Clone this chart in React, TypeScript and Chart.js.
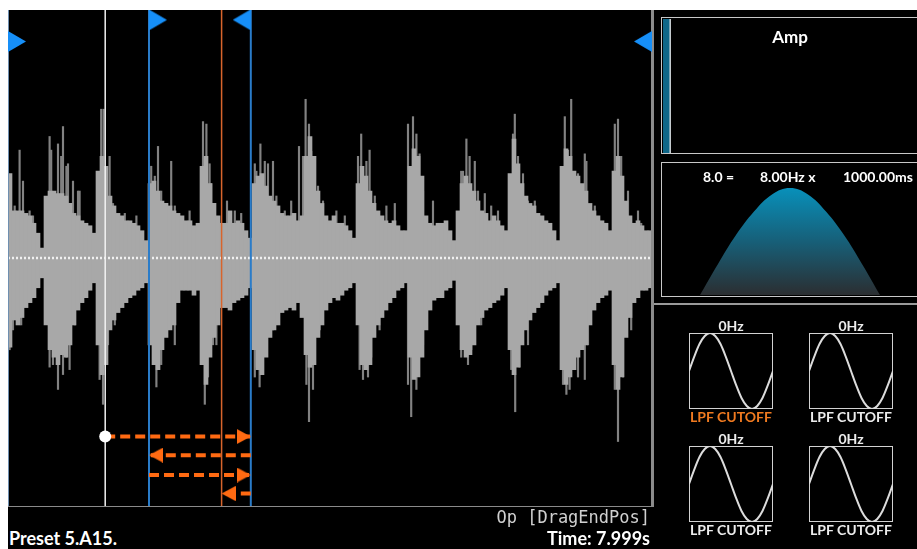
import React, { useEffect, useRef } from 'react';
import { Chart, registerables } from 'chart.js';

Chart.register(...registerables);

const UI_FONT = 'Lato, "Open Sans", "DejaVu Sans", sans-serif';
const MONO_FONT = '"DejaVu Sans Mono", "Liberation Mono", monospace';

// ---- Waveform (one column = one display bin, amplitude -1..1) ----
const waveTop = [
  0.34, 0.19, 0.19, 0.19, 0.18, 0.17, 0.14, 0.10, 0.04, 0.25,
  0.27, 0.27, 0.26, 0.26, 0.25, 0.22, 0.18, 0.17, 0.15, 0.14,
  0.13, 0.10, 0.35, 0.41, 0.37, 0.25, 0.21, 0.18, 0.17, 0.15,
  0.15, 0.14, 0.13, 0.11, 0.07, 0.30, 0.31, 0.27, 0.23, 0.22,
  0.21, 0.19, 0.18, 0.17, 0.15, 0.15, 0.13, 0.14, 0.37, 0.41,
  0.30, 0.22, 0.17, 0.14, 0.14, 0.19, 0.14, 0.15, 0.14, 0.11,
  0.08, 0.30, 0.33, 0.34, 0.29, 0.25, 0.23, 0.21, 0.18, 0.17,
  0.17, 0.18, 0.15, 0.17, 0.41, 0.49, 0.41, 0.27, 0.22, 0.17,
  0.15, 0.17, 0.14, 0.14, 0.13, 0.11, 0.08, 0.30, 0.37, 0.33,
  0.27, 0.22, 0.19, 0.17, 0.15, 0.14, 0.15, 0.13, 0.11, 0.11,
  0.37, 0.44, 0.41, 0.33, 0.17, 0.14, 0.13, 0.14, 0.14, 0.15,
  0.11, 0.07, 0.19, 0.30, 0.33, 0.30, 0.27, 0.23, 0.19, 0.18,
  0.15, 0.17, 0.15, 0.13, 0.11, 0.34, 0.48, 0.38, 0.30, 0.25,
  0.22, 0.21, 0.18, 0.17, 0.15, 0.14, 0.11, 0.07, 0.37, 0.44,
  0.41, 0.35, 0.33, 0.30, 0.27, 0.22, 0.19, 0.17, 0.15, 0.14,
  0.11, 0.35, 0.41, 0.33, 0.23, 0.17, 0.14, 0.15, 0.13, 0.11,
  0.11,
];
const waveBottom = [
  -0.36, -0.25, -0.27, -0.24, -0.20, -0.18, -0.16, -0.12, -0.08, -0.27,
  -0.37, -0.40, -0.43, -0.39, -0.40, -0.35, -0.27, -0.21, -0.18, -0.16,
  -0.13, -0.10, -0.35, -0.47, -0.43, -0.29, -0.25, -0.22, -0.20, -0.18,
  -0.16, -0.15, -0.13, -0.12, -0.10, -0.35, -0.43, -0.45, -0.37, -0.32,
  -0.29, -0.27, -0.18, -0.13, -0.13, -0.13, -0.15, -0.13, -0.43, -0.51,
  -0.40, -0.32, -0.27, -0.20, -0.20, -0.21, -0.18, -0.17, -0.16, -0.15,
  -0.12, -0.37, -0.45, -0.47, -0.40, -0.32, -0.29, -0.27, -0.22, -0.21,
  -0.20, -0.21, -0.18, -0.24, -0.39, -0.44, -0.43, -0.32, -0.27, -0.21,
  -0.18, -0.16, -0.17, -0.15, -0.13, -0.12, -0.10, -0.27, -0.43, -0.45,
  -0.43, -0.32, -0.27, -0.24, -0.21, -0.18, -0.16, -0.13, -0.12, -0.10,
  -0.40, -0.49, -0.48, -0.40, -0.29, -0.21, -0.17, -0.16, -0.16, -0.13,
  -0.12, -0.09, -0.27, -0.37, -0.40, -0.39, -0.35, -0.27, -0.24, -0.21,
  -0.20, -0.18, -0.17, -0.15, -0.12, -0.37, -0.47, -0.44, -0.35, -0.29,
  -0.25, -0.22, -0.20, -0.18, -0.15, -0.13, -0.12, -0.10, -0.45, -0.51,
  -0.48, -0.45, -0.40, -0.37, -0.35, -0.27, -0.21, -0.18, -0.16, -0.15,
  -0.13, -0.43, -0.53, -0.48, -0.32, -0.24, -0.18, -0.16, -0.13, -0.13,
  -0.12,
];
// thin peak spikes: [column position, peak amplitude]
const topSpikes = [
  [1.67, 0.21], [2.9, 0.435], [3.75, 0.31], [5.4, 0.19], [6.25, 0.17], [10.4, 0.49],
  [10.8, 0.435], [12.5, 0.46], [13.3, 0.41], [13.75, 0.53], [14.6, 0.37], [15, 0.38],
  [16.25, 0.31], [17.5, 0.27], [17.9, 0.27], [23.3, 0.6], [23.9, 0.6], [25.4, 0.41],
  [26.25, 0.22], [29.2, 0.18], [32.1, 0.17], [35.8, 0.37], [36.7, 0.33], [37.5, 0.45],
  [38.3, 0.27], [39.6, 0.22], [40.8, 0.39], [41.7, 0.21], [45.4, 0.19], [48.75, 0.55],
  [49.6, 0.54], [50.4, 0.38], [50.8, 0.3], [51.7, 0.17], [54.75, 0.23], [56.7, 0.19],
  [58.3, 0.18], [61.7, 0.38], [62.1, 0.35], [63.1, 0.46], [64.2, 0.39], [65, 0.38],
  [66.25, 0.39], [67.1, 0.25], [69.2, 0.19], [70.8, 0.23], [72.75, 0.45], [73.75, 0.41],
  [74.4, 0.64], [75.25, 0.54], [75.8, 0.43], [77.5, 0.29], [78.75, 0.23], [82.1, 0.19],
  [84.2, 0.17], [87.5, 0.41], [88.3, 0.5], [89.6, 0.39], [90.4, 0.435], [91.7, 0.25],
  [94.6, 0.21], [96.7, 0.22], [100, 0.54], [101.25, 0.57], [102.1, 0.5], [102.9, 0.42],
  [103.75, 0.27], [106.25, 0.23], [113.3, 0.35], [113.75, 0.35], [114.6, 0.48], [115.4, 0.41],
  [116.7, 0.39], [117.5, 0.27], [119.2, 0.26], [120.8, 0.21], [122.5, 0.19], [126.25, 0.5],
  [126.7, 0.58], [127.5, 0.41], [128.75, 0.34], [130, 0.23], [131.7, 0.23], [139.2, 0.57],
  [140, 0.435], [140.8, 0.64], [142.5, 0.34], [144.2, 0.42], [144.6, 0.39], [146.7, 0.21],
  [149.2, 0.14], [151.7, 0.54], [152.5, 0.56], [153.3, 0.41], [155, 0.27], [157.5, 0.19],
  [158.3, 0.14],
];
const bottomSpikes = [
  [0.4, -0.37], [1.25, -0.29], [3.3, -0.27], [10.4, -0.44], [11.25, -0.43], [12.5, -0.53],
  [13.75, -0.47], [14.6, -0.4], [15.4, -0.45], [16.7, -0.27], [22.9, -0.49], [23.75, -0.59],
  [25, -0.35], [26.7, -0.27], [37.1, -0.52], [38.3, -0.43], [41.7, -0.35], [49.2, -0.59],
  [50, -0.48], [51.25, -0.35], [52.1, -0.35], [61.7, -0.48], [62.1, -0.44], [62.9, -0.52],
  [64.2, -0.39], [66.25, -0.29], [74.6, -0.51], [75.25, -0.66], [75.8, -0.44], [76.25, -0.53],
  [77.9, -0.29], [87.9, -0.45], [88.75, -0.49], [90, -0.48], [90.8, -0.4], [92.9, -0.29],
  [100, -0.51], [100.8, -0.64], [102.1, -0.53], [103.75, -0.35], [113.3, -0.4], [115, -0.43],
  [115.8, -0.37], [118.3, -0.27], [125.8, -0.45], [126.8, -0.62], [127.9, -0.44], [130, -0.35],
  [138.75, -0.51], [139.6, -0.55], [140.4, -0.53], [142.5, -0.48], [144.2, -0.49], [145, -0.35],
  [151.7, -0.53], [152.5, -0.74], [153.75, -0.48], [155.8, -0.29],
];

// ---- Markers (column units) ----
const markerStart = 0;
const markerCursor = 24.3;
const markerLoopStart = 35.25;
const markerPlayhead = 53.4;
const markerLoopEnd = 60.7;
const markerEnd = 161;

// drag path segments: [from, to]
const dragFrom = [24.3, 60.7, 35.25, 60.7];
const dragTo = [60.7, 35.25, 60.7, 53.4];
const dragLane = [-0.72, -0.795, -0.875, -0.95];

// ---- Right panel ----
const ampLevel = [0.03];
const envPhase = [0, 0.1, 0.2, 0.3, 0.4, 0.5, 0.6, 0.7, 0.8, 0.9, 1];
const envLevel = [0, 0.29, 0.56, 0.78, 0.94, 1, 0.94, 0.78, 0.56, 0.29, 0];
const lfoWave = [0, 0.38, 0.71, 0.92, 1, 0.92, 0.71, 0.38, 0, -0.38, -0.71, -0.92, -1, -0.92, -0.71, -0.38, 0];
const lfoRates = ['0Hz', '0Hz', '0Hz', '0Hz'];
const lfoTargets = ['LPF CUTOFF', 'LPF CUTOFF', 'LPF CUTOFF', 'LPF CUTOFF'];

function triangleImage(w: number, h: number, color: string, anchor: 'base' | 'tip') {
  const c = document.createElement('canvas');
  c.width = w * 2;
  c.height = h;
  const ctx = c.getContext('2d')!;
  ctx.fillStyle = color;
  ctx.beginPath();
  if (anchor === 'base') {
    ctx.moveTo(w, 0);
    ctx.lineTo(w, h);
    ctx.lineTo(2 * w, h / 2);
  } else {
    ctx.moveTo(0, 0);
    ctx.lineTo(0, h);
    ctx.lineTo(w, h / 2);
  }
  ctx.closePath();
  ctx.fill();
  return c;
}

const baseOptions: any = {
  responsive: false,
  animation: false,
  devicePixelRatio: 1,
  events: [],
  layout: { padding: 0, autoPadding: false },
  plugins: { legend: { display: false }, tooltip: { enabled: false }, title: { display: false } },
};

function vline(x: number, color: string, width: number) {
  return {
    type: 'line',
    data: [{ x, y: -1 }, { x, y: 1 }],
    borderColor: color,
    borderWidth: width,
    pointRadius: 0,
    order: 3,
  };
}

function WaveChart() {
  const ref = useRef<HTMLCanvasElement>(null);
  useEffect(() => {
    const flag = triangleImage(18, 21, '#168ff8', 'base');
    const head = triangleImage(14, 15, '#ff6a12', 'tip');
    const arrows = dragFrom.map((from, k) => ({
      type: 'line',
      data: [{ x: from, y: dragLane[k] }, { x: dragTo[k], y: dragLane[k] }],
      borderColor: '#ff6a12',
      borderWidth: 4,
      borderDash: [10, 5],
      borderCapStyle: 'butt',
      pointStyle: ['circle', head],
      pointRadius: [k === 0 ? 6 : 0, 7],
      pointRotation: [0, dragTo[k] > from ? 0 : 180],
      pointBackgroundColor: '#ffffff',
      pointBorderWidth: 0,
      order: 1,
    }));
    const chart = new Chart(ref.current!, {
      type: 'bar',
      data: {
        datasets: [
          {
            type: 'bar',
            data: topSpikes.map(([x, v]) => ({ x, y: [0, v] })),
            backgroundColor: '#828282',
            borderWidth: 0,
            barThickness: 1.5,
            grouped: false,
            order: 30,
          },
          {
            type: 'bar',
            data: bottomSpikes.map(([x, v]) => ({ x, y: [v, 0] })),
            backgroundColor: '#828282',
            borderWidth: 0,
            barThickness: 1.5,
            grouped: false,
            order: 30,
          },
          {
            type: 'bar',
            data: waveTop.map((t, i) => ({ x: i + 0.5, y: [waveBottom[i], t] })),
            backgroundColor: '#a8a8a8',
            borderWidth: 0,
            barThickness: 4,
            grouped: false,
            order: 20,
          },
          {
            type: 'line',
            data: [{ x: markerStart, y: 0 }, { x: markerEnd, y: 0 }],
            borderColor: '#f0f0f0',
            borderWidth: 2.5,
            borderDash: [2, 2],
            pointRadius: 0,
            order: 8,
          },
          vline(markerStart, '#6f8fb0', 2),
          vline(markerCursor, '#f2f2f2', 1.5),
          vline(markerLoopStart, '#2a7cc9', 2),
          vline(markerPlayhead, '#d8642c', 1.5),
          vline(markerLoopEnd, '#2a7cc9', 2),
          vline(markerEnd, '#8c8c8c', 2),
          ...arrows,
          {
            type: 'line',
            showLine: false,
            data: [
              { x: markerStart, y: 0.873 },
              { x: markerLoopStart, y: 0.96 },
              { x: markerLoopEnd, y: 0.96 },
              { x: markerEnd, y: 0.873 },
            ],
            pointStyle: flag,
            pointRadius: 10,
            pointRotation: [0, 0, 180, 180],
            order: 0,
          },
        ] as any,
      },
      options: {
        ...baseOptions,
        scales: {
          x: { type: 'linear', min: 0, max: 161.5, display: false, offset: false, grid: { display: false } },
          y: { type: 'linear', min: -1, max: 1, display: false },
        },
      },
    });
    return () => chart.destroy();
  }, []);
  return (
    <canvas
      ref={ref}
      width={646}
      height={496}
      style={{ position: 'absolute', left: 8, top: 10, width: 646, height: 496 }}
    />
  );
}

function AmpChart() {
  const ref = useRef<HTMLCanvasElement>(null);
  useEffect(() => {
    const chart = new Chart(ref.current!, {
      type: 'bar',
      data: {
        labels: ['Amp'],
        datasets: [
          {
            data: ampLevel,
            backgroundColor: '#0f6788',
            borderColor: '#cfd6da',
            borderWidth: { left: 0, top: 0, bottom: 0, right: 1.5 },
            borderSkipped: false,
            barPercentage: 1,
            categoryPercentage: 1,
          },
        ],
      },
      options: {
        ...baseOptions,
        indexAxis: 'y',
        scales: {
          x: { min: 0, max: 1, display: false },
          y: { display: false },
        },
      } as any,
    });
    return () => chart.destroy();
  }, []);
  return (
    <canvas
      ref={ref}
      width={254}
      height={134}
      style={{ position: 'absolute', left: 663, top: 18.5, width: 254, height: 134 }}
    />
  );
}

function EnvChart() {
  const ref = useRef<HTMLCanvasElement>(null);
  useEffect(() => {
    const chart = new Chart(ref.current!, {
      type: 'line',
      data: {
        datasets: [
          {
            data: envPhase.map((x, i) => ({ x, y: envLevel[i] })),
            borderWidth: 0,
            pointRadius: 0,
            tension: 0.4,
            fill: 'origin',
            backgroundColor: (ctx: any) => {
              const c = ctx.chart;
              const area = c.chartArea;
              if (!area) return '#0a90b8';
              const top = c.scales.y.getPixelForValue(1);
              const g = c.ctx.createLinearGradient(0, top, 0, area.bottom);
              g.addColorStop(0, '#0890ba');
              g.addColorStop(0.5, '#175f78');
              g.addColorStop(1, '#2b2e31');
              return g;
            },
          },
        ],
      },
      options: {
        ...baseOptions,
        scales: {
          x: { type: 'linear', min: -0.2056, max: 1.2056, display: false },
          y: { min: 0, max: 1.234, display: false },
        },
      } as any,
    });
    return () => chart.destroy();
  }, []);
  return (
    <canvas
      ref={ref}
      width={254}
      height={132}
      style={{ position: 'absolute', left: 663, top: 163, width: 254, height: 132 }}
    />
  );
}

function LfoChart({ left, top }: { left: number; top: number }) {
  const ref = useRef<HTMLCanvasElement>(null);
  useEffect(() => {
    const chart = new Chart(ref.current!, {
      type: 'line',
      data: {
        datasets: [
          {
            data: lfoWave.map((v, i) => ({ x: i, y: v })),
            borderColor: '#dcdcdc',
            borderWidth: 2,
            pointRadius: 0,
            cubicInterpolationMode: 'monotone',
            fill: false,
          },
        ],
      },
      options: {
        ...baseOptions,
        scales: {
          x: { type: 'linear', min: 0, max: lfoWave.length - 1, display: false },
          y: { min: -1, max: 1, display: false },
        },
      } as any,
    });
    return () => chart.destroy();
  }, []);
  return (
    <>
      <div
        style={{
          position: 'absolute', left, top, width: 84, height: 76,
          border: '1.5px solid #d2d2d2', boxSizing: 'border-box',
        }}
      />
      <canvas
        ref={ref}
        width={84}
        height={76}
        style={{ position: 'absolute', left, top, width: 84, height: 76 }}
      />
    </>
  );
}

function Label(props: {
  text: string; left: number; top: number; size: number; color?: string;
  width?: number; align?: 'left' | 'center' | 'right'; font?: string; bold?: boolean;
}) {
  const { text, left, top, size, color = '#ffffff', width, align = 'left', font = UI_FONT, bold = true } = props;
  return (
    <div
      style={{
        position: 'absolute', left, top, width, textAlign: align,
        fontFamily: font, fontSize: size, fontWeight: bold ? 700 : 400,
        lineHeight: `${size + 2}px`, color, whiteSpace: 'nowrap',
      }}
    >
      {text}
    </div>
  );
}

const lfoBoxes = [
  { left: 689, top: 333 },
  { left: 809, top: 333 },
  { left: 689, top: 446 },
  { left: 809, top: 446 },
];

export default function App() {
  return (
    <div style={{ position: 'absolute', left: 0, top: 0, width: 917, height: 549, background: '#ffffff', overflow: 'hidden' }}>
      <div style={{ position: 'absolute', left: 8, top: 10, width: 909, height: 539, background: '#000000' }} />
      <WaveChart />
      <div style={{ position: 'absolute', left: 653, top: 10, width: 1, height: 497, background: '#8a8a8a' }} />
      <div style={{ position: 'absolute', left: 8, top: 506, width: 646, height: 1, background: '#8a8a8a' }} />
      <div style={{ position: 'absolute', left: 654, top: 303, width: 263, height: 1.5, background: '#9a9a9a' }} />

      <Label text="Op [DragEndPos]" left={400} width={250} align="right" top={508} size={17} font={MONO_FONT} bold={false} color="#d0d0d0" />
      <Label text="Preset 5.A15." left={9} top={528} size={18} />
      <Label text="Time: 7.999s" left={400} width={250} align="right" top={528} size={18} />

      <div style={{ position: 'absolute', left: 661, top: 17, width: 262, height: 137, border: '1.5px solid #c8c8c8', boxSizing: 'border-box' }} />
      <AmpChart />
      <Label text="Amp" left={740} width={100} align="center" top={27} size={17} />

      <div style={{ position: 'absolute', left: 661, top: 161.5, width: 262, height: 135.5, border: '1.5px solid #c8c8c8', boxSizing: 'border-box' }} />
      <EnvChart />
      <Label text="8.0 =" left={703} top={169} size={14} />
      <Label text="8.00Hz x" left={760} top={169} size={14} />
      <Label text="1000.00ms" left={843} top={169} size={14} />

      {lfoBoxes.map((b, i) => (
        <React.Fragment key={i}>
          <LfoChart left={b.left} top={b.top} />
          <Label text={lfoRates[i]} left={b.left - 8} width={100} align="center" top={b.top - 15.5} size={14} color="#ececec" />
          <Label text={lfoTargets[i]} left={b.left - 8} width={100} align="center" top={b.top + 76} size={14} color={i === 0 ? '#f07a20' : '#ececec'} />
        </React.Fragment>
      ))}
    </div>
  );
}
